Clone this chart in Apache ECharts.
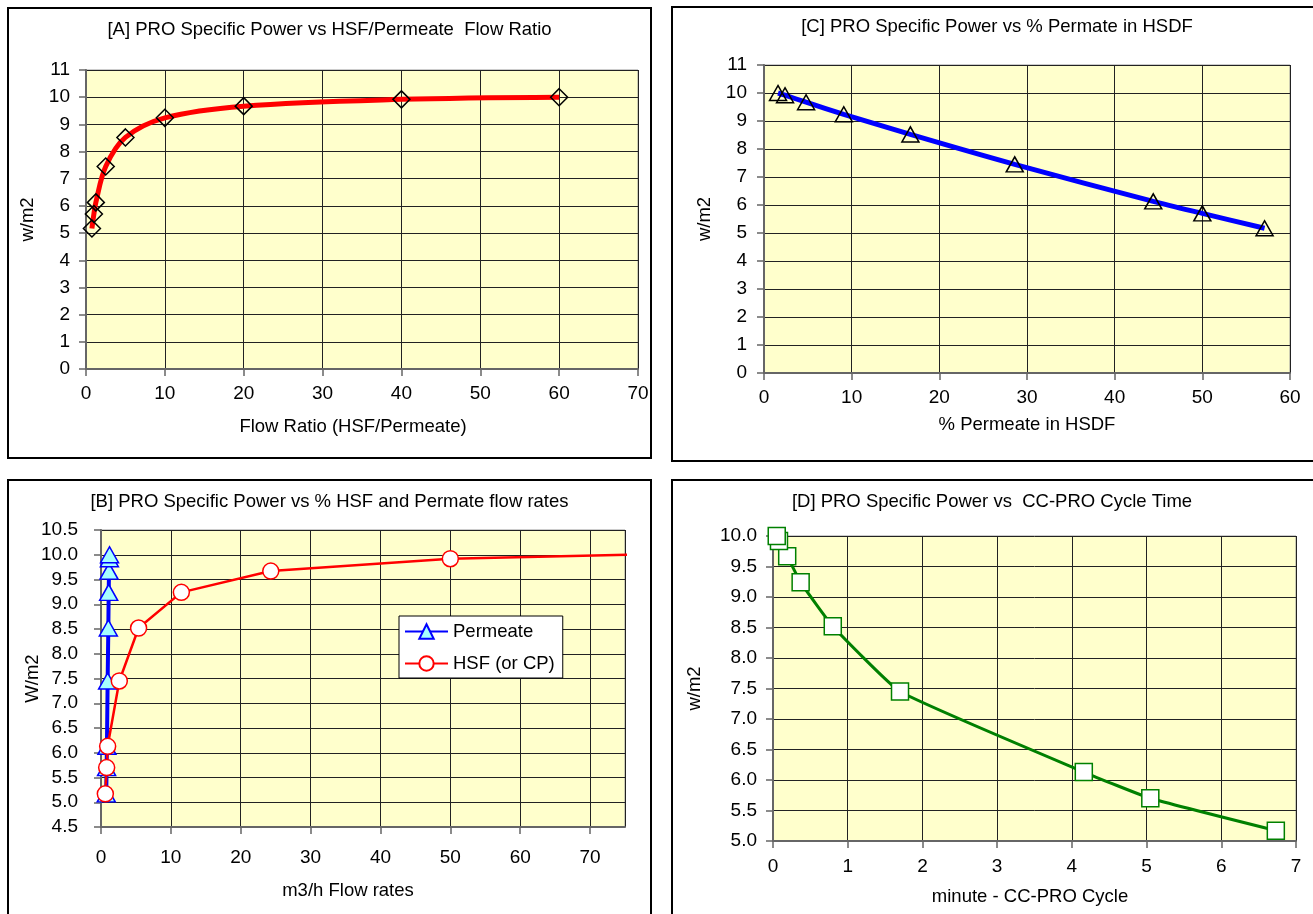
<!DOCTYPE html>
<html>
<head>
<meta charset="utf-8">
<script src="https://cdn.jsdelivr.net/npm/echarts@6/dist/echarts.min.js"></script>
<style>
html, body { margin: 0; padding: 0; background: #fff; overflow: hidden; width: 1313px; height: 914px; }
.panel { position: absolute; border: 2px solid #000; box-sizing: border-box; background: #fff; overflow: hidden; }
.chart { position: absolute; left: 0; top: 0; }
</style>
</head>
<body>
<div class="panel" style="left:7px;top:7px;width:645px;height:452px"><div id="chartA" class="chart" style="width:641px;height:448px"></div></div>
<div class="panel" style="left:671px;top:6px;width:700px;height:456px"><div id="chartC" class="chart" style="width:648px;height:452px"></div></div>
<div class="panel" style="left:7px;top:479px;width:645px;height:500px"><div id="chartB" class="chart" style="width:641px;height:496px"></div></div>
<div class="panel" style="left:671px;top:479px;width:700px;height:500px"><div id="chartD" class="chart" style="width:638px;height:496px"></div></div>
<script>
// values
var specificPower = [5.17, 5.7, 6.13, 7.45, 8.52, 9.24, 9.67, 9.92, 10.0];
var flowRatio = [0.75, 1, 1.25, 2.5, 5, 10, 20, 40, 60];
var permeatePct = [57.1, 50, 44.4, 28.6, 16.7, 9.1, 4.8, 2.4, 1.6];
var permeateFlow = [0.75, 0.8, 0.85, 0.95, 1.05, 1.1, 1.15, 1.2, 1.22];
var hsfFlow = [0.62, 0.81, 0.95, 2.62, 5.38, 11.5, 24.3, 50.0, 76];
var cycleTime = [6.73, 5.05, 4.16, 1.7, 0.8, 0.37, 0.19, 0.08, 0.05];

var FONT = "'Liberation Sans', Arial, sans-serif";

function pairs(xs, ys) {
    var out = [];
    for (var i = 0; i < xs.length; i++) out.push([xs[i], ys[i]]);
    return out;
}

function gridCfg(left, top, width, height) {
    return {
        left: left, top: top, width: width, height: height,
        outerBoundsMode: 'none', containLabel: false,
        show: true, backgroundColor: '#FFFFCC', borderColor: '#999', borderWidth: 1
    };
}

function axisCfg(isY, name, min, max, interval, labelMargin, nameGap, namePadRight, decimals) {
    var ax = {
        type: 'value', min: min, max: max, interval: interval,
        name: name, nameLocation: 'middle', nameGap: nameGap,
        nameMoveOverlap: false,
        nameTextStyle: { fontFamily: FONT, fontSize: 18.5, color: '#000', padding: [0, namePadRight || 0, 0, 0] },
        axisLine: { show: true, onZero: false, lineStyle: { color: '#666', width: 2 } },
        axisTick: { show: true, length: 7, lineStyle: { color: '#666', width: 1.5 } },
        axisLabel: { fontFamily: FONT, fontSize: 19, color: '#000', margin: labelMargin },
        splitLine: { show: true, lineStyle: { color: '#222', width: 1 } }
    };
    if (isY) ax.nameRotate = 90;
    if (decimals) {
        ax.axisLabel.formatter = function (v) { return v.toFixed(decimals); };
    }
    return ax;
}

function titleCfg(text, top) {
    return {
        text: text, left: 'center', top: top, padding: 0,
        textStyle: { fontFamily: FONT, fontSize: 18.5, fontWeight: 'normal', color: '#000' }
    };
}

// [A]
var chartA = echarts.init(document.getElementById('chartA'));
chartA.setOption({
    animation: false,
    title: titleCfg('[A] PRO Specific Power vs HSF/Permeate  Flow Ratio', 11),
    grid: gridCfg(77, 61, 552, 299),
    xAxis: axisCfg(false, 'Flow Ratio (HSF/Permeate)', 0, 70, 10, 15, 48, 18),
    yAxis: axisCfg(true, 'w/m2', 0, 11, 1, 16, 49),
    series: [{
        type: 'line',
        data: pairs(flowRatio, specificPower),
        smooth: 0.35,
        clip: false,
        symbol: 'diamond',
        symbolSize: 17,
        lineStyle: { color: '#FF0000', width: 5 },
        itemStyle: { color: 'rgba(0,0,0,0)', borderColor: '#000', borderWidth: 1.5 }
    }]
});

// [C]
var chartC = echarts.init(document.getElementById('chartC'));
chartC.setOption({
    animation: false,
    title: titleCfg('[C] PRO Specific Power vs % Permate in HSDF', 9),
    grid: gridCfg(91, 57, 526, 308),
    xAxis: axisCfg(false, '% Permeate in HSDF', 0, 60, 10, 15, 42),
    yAxis: axisCfg(true, 'w/m2', 0, 11, 1, 17, 50),
    series: [{
        type: 'line',
        data: pairs(permeatePct, specificPower),
        smooth: 0.3,
        clip: false,
        symbol: 'triangle',
        symbolSize: [17, 15],
        lineStyle: { color: '#0000FF', width: 5 },
        itemStyle: { color: 'rgba(0,0,0,0)', borderColor: '#000', borderWidth: 1.5 }
    }]
});

// [B]
var chartB = echarts.init(document.getElementById('chartB'));
var bx = axisCfg(false, 'm3/h Flow rates', 0, 75, 10, 21, 54, 30);
bx.axisLabel.showMaxLabel = false;
chartB.setOption({
    animation: false,
    title: titleCfg('[B] PRO Specific Power vs % HSF and Permate flow rates', 11),
    grid: gridCfg(92, 49, 524, 297),
    xAxis: bx,
    yAxis: axisCfg(true, 'W/m2', 4.5, 10.5, 0.5, 23, 59, 0, 1),
    legend: {
        orient: 'vertical',
        left: 390, top: 135,
        backgroundColor: '#fff', borderColor: '#000', borderWidth: 1,
        padding: [6, 8, 5, 5],
        itemGap: 13, itemWidth: 43, itemHeight: 18,
        textStyle: { fontFamily: FONT, fontSize: 18.5, color: '#000' },
        data: ['Permeate', 'HSF (or CP)']
    },
    series: [{
        name: 'Permeate',
        type: 'line',
        data: pairs(permeateFlow, specificPower),
        clip: false,
        symbol: 'triangle',
        symbolSize: [18, 16],
        lineStyle: { color: '#0000FF', width: 4 },
        itemStyle: { color: '#A6FFFF', borderColor: '#0000FF', borderWidth: 1.5 }
    }, {
        name: 'HSF (or CP)',
        type: 'line',
        data: pairs(hsfFlow, specificPower),
        clip: true,
        symbol: 'circle',
        symbolSize: 16,
        lineStyle: { color: '#FF0000', width: 2.5 },
        itemStyle: { color: '#fff', borderColor: '#FF0000', borderWidth: 1.5 }
    }]
});

// [D]
var chartD = echarts.init(document.getElementById('chartD'));
chartD.setOption({
    animation: false,
    title: titleCfg('[D] PRO Specific Power vs  CC-PRO Cycle Time', 11),
    grid: gridCfg(100, 55, 523, 305),
    xAxis: axisCfg(false, 'minute - CC-PRO Cycle', 0, 7, 1, 16, 46, 9),
    yAxis: axisCfg(true, 'w/m2', 5, 10, 0.5, 16, 69, 0, 1),
    series: [{
        type: 'line',
        data: pairs(cycleTime, specificPower),
        smooth: 0.12,
        clip: false,
        symbol: 'rect',
        symbolSize: 17,
        lineStyle: { color: '#008000', width: 3 },
        itemStyle: { color: '#fff', borderColor: '#008000', borderWidth: 1.5 }
    }]
});
</script>
</body>
</html>
